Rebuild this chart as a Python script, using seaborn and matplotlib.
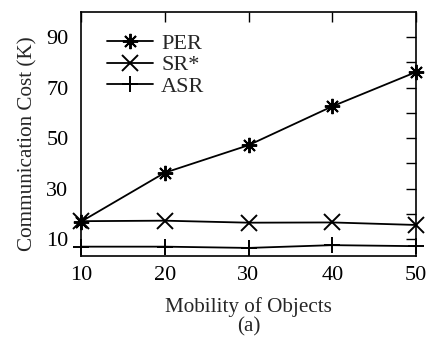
import matplotlib
matplotlib.use("Agg")
import matplotlib.pyplot as plt
import seaborn as sns
import pandas as pd

# Communication cost (K) versus object mobility
mobility = [10, 20, 30, 40, 50]
per_cost = [16.9, 36.3, 47.2, 62.6, 76.2]
sr_cost = [17.1, 17.3, 16.5, 16.6, 15.6]
asr_cost = [7.0, 7.0, 6.5, 7.6, 7.2]
series_names = ["PER", "SR*", "ASR"]
y_tick_labels = [10, 30, 50, 70, 90]

df = pd.DataFrame({
    "Mobility": mobility * 3,
    "Cost": per_cost + sr_cost + asr_cost,
    "Scheme": [series_names[0]] * 5 + [series_names[1]] * 5 + [series_names[2]] * 5,
})

sns.set_theme(style="white")
plt.rcParams["font.family"] = ["Liberation Serif", "DejaVu Serif"]

fig = plt.figure(figsize=(4.38, 3.49), dpi=100)
ax = fig.add_axes([81 / 438, 1 - 256 / 349, (416 - 81) / 438, (256 - 12) / 349])

markers = {"PER": (8, 2, 0), "SR*": "x", "ASR": "+"}
sns.lineplot(
    data=df, x="Mobility", y="Cost", hue="Scheme", style="Scheme",
    markers=markers, dashes=False, palette=["black"] * 3,
    linewidth=1.3, markersize=11, markeredgewidth=1.4,
    markeredgecolor="black", ax=ax, legend=True, clip_on=False,
)

ax.set_xlim(10, 50)
ax.set_ylim(3.3, 100)
ax.set_xticks(mobility)
ticks = list(range(10, 100, 10))
ax.set_yticks(ticks)
ax.set_yticklabels([str(v) if v in y_tick_labels else "" for v in ticks])

ax.tick_params(axis="both", direction="in", length=7, width=1.0,
               top=True, right=True, labelsize=16, colors="black")
ax.tick_params(axis="y", pad=9)
ax.tick_params(axis="x", pad=7)
for s in ax.spines.values():
    s.set_color("black")
    s.set_linewidth(1.2)

ax.set_xlabel("Mobility of Objects", fontsize=15.2, labelpad=9)
ax.set_ylabel("")
fig.text(28 / 438, 1 - 144 / 349, "Communication Cost (K)", rotation=90,
         ha="center", va="center", fontsize=15.2)
fig.text(0.5 * (81 + 416) / 438, 1 - 327 / 349, "(a)", ha="center", va="center",
         fontsize=15.2)

leg = ax.legend(loc="upper left", frameon=False, fontsize=16,
                bbox_to_anchor=(0.05, 0.95), handlelength=2.1,
                handletextpad=0.35, labelspacing=0.05, borderaxespad=0)
for h in leg.legend_handles:
    h.set_color("black")
    h.set_markeredgecolor("black")
    h.set_markersize(11)
    h.set_markeredgewidth(1.4)

fig.savefig("out.png", dpi=100)
